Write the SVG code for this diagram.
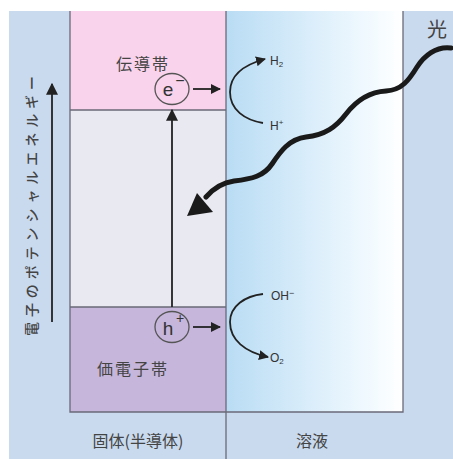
<svg xmlns="http://www.w3.org/2000/svg" width="453" height="459" viewBox="0 0 453 459">
<defs>
<linearGradient id="sol" x1="0" y1="0" x2="1" y2="0">
<stop offset="0" stop-color="#b9dcf4"/>
<stop offset="0.85" stop-color="#f4fbff"/>
<stop offset="1" stop-color="#ffffff"/>
</linearGradient>
<marker id="ah" viewBox="0 0 10 10" refX="9" refY="5" markerWidth="10" markerHeight="10" markerUnits="userSpaceOnUse" orient="auto">
<path d="M0,0 L10,5 L0,10 Z" fill="#222"/>
</marker>
<marker id="ahs" viewBox="0 0 10 10" refX="9" refY="5" markerWidth="12" markerHeight="12" markerUnits="userSpaceOnUse" orient="auto">
<path d="M0,0 L10,5 L0,10 Z" fill="#222"/>
</marker>
</defs>
<style>
.j{font-family:"Noto Sans CJK JP","Noto Sans CJK SC",sans-serif;fill:#444}
.t{font-family:"Liberation Sans","Noto Sans",sans-serif;fill:#333}
.ln{stroke:#6a6a78;stroke-width:1.3;fill:none}
.ar{stroke:#222;stroke-width:1.8;fill:none}
</style>
<rect x="0" y="0" width="453" height="459" fill="#ffffff"/>
<rect x="9" y="11" width="444" height="448" fill="#c9daee"/>
<g id="conduction-band"><rect x="70" y="11" width="156" height="99" fill="#f9d3eb"/>
<text class="j" x="143" y="70" font-size="16" text-anchor="middle" letter-spacing="2">伝導帯</text></g>
<g id="gap"><rect x="70" y="110" width="156" height="197" fill="#e9e9f1"/></g>
<g id="valence-band"><rect x="70" y="307" width="156" height="105" fill="#c6b6db"/>
<text class="j" x="133" y="375" font-size="16" text-anchor="middle" letter-spacing="2">価電子帯</text></g>
<g id="solution"><rect x="226" y="11" width="177" height="401" fill="url(#sol)"/></g>
<g id="frame">
<path class="ln" d="M70,11 V412 H403 V11"/>
<path class="ln" d="M70,110 H226 M70,307 H226"/>
<path class="ln" d="M226,11 V459"/>
</g>
<g id="axis">
<line x1="52" y1="322" x2="52" y2="84" class="ar" stroke-width="1.4" marker-end="url(#ahs)"/>
<text class="j" transform="translate(37,206) rotate(-90)" font-size="14" font-weight="500" text-anchor="middle" textLength="260" lengthAdjust="spacing">電子のポテンシャルエネルギー</text>
</g>
<g id="electron">
<ellipse cx="172" cy="89" rx="17" ry="15.5" fill="none" stroke="#555" stroke-width="1.3"/>
<text class="t" x="168" y="96" font-size="19" text-anchor="middle">e</text>
<text class="t" x="180" y="86" font-size="16" text-anchor="middle">−</text>
</g>
<g id="hole">
<ellipse cx="172" cy="327" rx="17" ry="15.5" fill="none" stroke="#555" stroke-width="1.3"/>
<text class="t" x="168" y="335" font-size="19" text-anchor="middle">h</text>
<text class="t" x="180" y="323" font-size="14" text-anchor="middle">+</text>
</g>
<g id="H2"><text class="t" x="270" y="65" font-size="12">H<tspan font-size="8" dy="2">2</tspan></text></g>
<g id="Hplus"><text class="t" x="270" y="130" font-size="12">H<tspan font-size="8" dy="-5">+</tspan></text></g>
<g id="OH"><text class="t" x="271" y="300" font-size="12">OH<tspan font-size="9" dy="-4">−</tspan></text></g>
<g id="O2"><text class="t" x="270" y="362" font-size="12">O<tspan font-size="8" dy="2">2</tspan></text></g>
<g id="light"><text class="j" x="437" y="37" font-size="20" text-anchor="middle">光</text></g>
<g id="labels">
<text class="j" x="138" y="447" font-size="16" text-anchor="middle">固体(半導体)</text>
<text class="j" x="312" y="447" font-size="16" text-anchor="middle">溶液</text>
</g>
<g id="connectors">
<line x1="172" y1="307" x2="172" y2="110" class="ar" stroke-width="1.6" marker-end="url(#ahs)"/>
<line x1="193" y1="89" x2="220" y2="89" class="ar" stroke-width="1.6" marker-end="url(#ah)"/>
<line x1="193" y1="327" x2="220" y2="327" class="ar" stroke-width="1.6" marker-end="url(#ah)"/>
<path class="ar" stroke-width="2.2" d="M263,123 C245,120 230,110 230,92 C230,76 243,65 265,59" marker-end="url(#ah)"/>
<path class="ar" stroke-width="2.2" d="M263,294 C245,296 230,306 230,322 C230,340 245,352 268,357" marker-end="url(#ah)"/>
<path d="M451,48 C436,46 424,56 417,67 C409,80 402,90 386,91 C368,92 356,101 346,114 C336,127 325,135 306,137 C289,139 280,152 272,164 C264,176 252,179 234,181 C220,183 212,190 206,197" fill="none" stroke="#1a1a1a" stroke-width="5" stroke-linecap="round"/>
<path d="M187,216 L197,193 L213,212 Z" fill="#1a1a1a"/>
</g>
</svg>
